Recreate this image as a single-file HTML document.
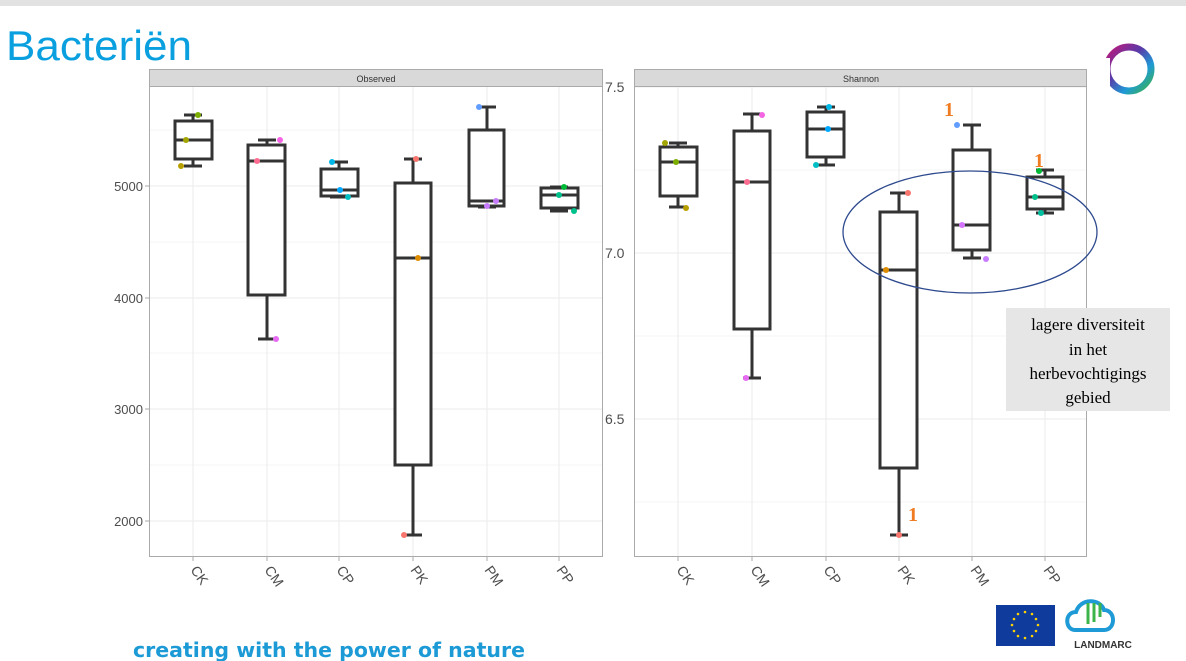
<!DOCTYPE html>
<html><head><meta charset="utf-8"><style>
html,body{margin:0;padding:0;background:#fff;}
body{width:1186px;height:661px;overflow:hidden;position:relative;font-family:"Liberation Sans",sans-serif;}
</style></head><body>
<svg width="1186" height="661" xmlns="http://www.w3.org/2000/svg" style="position:absolute;left:0;top:0">
<defs>
<linearGradient id="lg" x1="0" y1="0" x2="1" y2="1">
<stop offset="0" stop-color="#c2187a"/><stop offset="0.4" stop-color="#5a3aa8"/><stop offset="0.7" stop-color="#1e9ad6"/><stop offset="1" stop-color="#3cb44a"/></linearGradient>
</defs>
<rect x="0" y="0" width="1186" height="6" fill="#e2e2e2"/>
<text x="6" y="60" font-family="Liberation Sans" font-size="42" fill="#0aa0e0" textLength="186" lengthAdjust="spacingAndGlyphs">Bacteriën</text>
<!-- logo -->
<circle cx="1129" cy="69" r="22" fill="none" stroke="url(#lg)" stroke-width="7"/>
<rect x="1098" y="58" width="12" height="30" fill="#fff"/>

<!-- LEFT PANEL -->
<g stroke="#ebebeb" stroke-width="1">
<line x1="150" x2="603" y1="130" y2="130" stroke="#f4f4f4"/>
<line x1="150" x2="603" y1="242" y2="242" stroke="#f4f4f4"/>
<line x1="150" x2="603" y1="353" y2="353" stroke="#f4f4f4"/>
<line x1="150" x2="603" y1="465" y2="465" stroke="#f4f4f4"/>
<line x1="150" x2="603" y1="186" y2="186"/>
<line x1="150" x2="603" y1="298" y2="298"/>
<line x1="150" x2="603" y1="409" y2="409"/>
<line x1="150" x2="603" y1="521" y2="521"/>
<line x1="193" x2="193" y1="86" y2="556"/><line x1="267" x2="267" y1="86" y2="556"/>
<line x1="339" x2="339" y1="86" y2="556"/><line x1="413" x2="413" y1="86" y2="556"/>
<line x1="487" x2="487" y1="86" y2="556"/><line x1="559" x2="559" y1="86" y2="556"/>
</g>
<rect x="149.5" y="69.5" width="453" height="17" fill="#d9d9d9" stroke="#aaa"/>
<text x="376" y="82" font-size="9" text-anchor="middle" fill="#333">Observed</text>
<rect x="149.5" y="86.5" width="453" height="470" fill="none" stroke="#aaa"/>
<g font-size="13" fill="#4d4d4d" text-anchor="end">
<text x="143" y="191">5000</text><text x="143" y="303">4000</text><text x="143" y="414">3000</text><text x="143" y="526">2000</text>
</g>
<g stroke="#aaa"><line x1="145" x2="149" y1="186" y2="186"/><line x1="145" x2="149" y1="298" y2="298"/><line x1="145" x2="149" y1="409" y2="409"/><line x1="145" x2="149" y1="521" y2="521"/></g>
<g stroke="#aaa"><line x1="193" x2="193" y1="557" y2="561"/><line x1="267" x2="267" y1="557" y2="561"/><line x1="339" x2="339" y1="557" y2="561"/><line x1="413" x2="413" y1="557" y2="561"/><line x1="487" x2="487" y1="557" y2="561"/><line x1="559" x2="559" y1="557" y2="561"/>
<line x1="678" x2="678" y1="557" y2="561"/><line x1="752" x2="752" y1="557" y2="561"/><line x1="826" x2="826" y1="557" y2="561"/><line x1="899" x2="899" y1="557" y2="561"/><line x1="972" x2="972" y1="557" y2="561"/><line x1="1045" x2="1045" y1="557" y2="561"/></g>
<g font-size="14" fill="#4d4d4d">
<text transform="translate(190,570) rotate(55)">CK</text>
<text transform="translate(264,570) rotate(55)">CM</text>
<text transform="translate(336,570) rotate(55)">CP</text>
<text transform="translate(410,570) rotate(55)">PK</text>
<text transform="translate(484,570) rotate(55)">PM</text>
<text transform="translate(556,570) rotate(55)">PP</text>
<text transform="translate(676,570) rotate(55)">CK</text>
<text transform="translate(750,570) rotate(55)">CM</text>
<text transform="translate(823,570) rotate(55)">CP</text>
<text transform="translate(897,570) rotate(55)">PK</text>
<text transform="translate(970,570) rotate(55)">PM</text>
<text transform="translate(1043,570) rotate(55)">PP</text>
</g>
<g fill="none" stroke="#333" stroke-width="3">
<path d="M193 115V121M193 159V166M184 115H202M184 166H202"/><rect x="175" y="121" width="37" height="38" fill="#fff"/><path d="M175 140H212"/>
<path d="M267 140V145M267 295V339M258 140H276M258 339H276"/><rect x="248" y="145" width="37" height="150" fill="#fff"/><path d="M248 161H285"/>
<path d="M339 162V169M330 162H348M330 197H348"/><rect x="321" y="169" width="37" height="27" fill="#fff"/><path d="M321 190H358"/>
<path d="M413 159V183M413 465V535M404 159H422M404 535H422"/><rect x="395" y="183" width="36" height="282" fill="#fff"/><path d="M395 258H431"/>
<path d="M487 107V130M478 107H496M478 207H496"/><rect x="469" y="130" width="35" height="76" fill="#fff"/><path d="M469 201H504"/>
<path d="M559 208V211M550 187H568M550 211H568"/><rect x="541" y="188" width="37" height="20" fill="#fff"/><path d="M541 195H578"/>
</g>
<g>
<circle cx="198" cy="115" r="3" fill="#7cae00"/><circle cx="186" cy="140" r="3" fill="#a3a500"/><circle cx="181" cy="166" r="3" fill="#b79f00"/>
<circle cx="280" cy="140" r="3" fill="#f564e3"/><circle cx="257" cy="161" r="3" fill="#ff6c91"/><circle cx="276" cy="339" r="3" fill="#e76bf3"/>
<circle cx="332" cy="162" r="3" fill="#00b8e7"/><circle cx="340" cy="190" r="3" fill="#00a9ff"/><circle cx="348" cy="197" r="3" fill="#00bfc4"/>
<circle cx="416" cy="159" r="3" fill="#f8766d"/><circle cx="418" cy="258" r="3" fill="#de8c00"/><circle cx="404" cy="535" r="3" fill="#f8766d"/>
<circle cx="479" cy="107" r="3" fill="#619cff"/><circle cx="496" cy="201" r="3" fill="#c77cff"/><circle cx="487" cy="206" r="3" fill="#c77cff"/>
<circle cx="564" cy="187" r="3" fill="#00ba38"/><circle cx="559" cy="195" r="3" fill="#00c08b"/><circle cx="574" cy="211" r="3" fill="#00c08b"/>
</g>

<!-- RIGHT PANEL -->
<g stroke="#ebebeb" stroke-width="1">
<line x1="635" x2="1087" y1="170" y2="170" stroke="#f4f4f4"/>
<line x1="635" x2="1087" y1="336" y2="336" stroke="#f4f4f4"/>
<line x1="635" x2="1087" y1="502" y2="502" stroke="#f4f4f4"/>
<line x1="635" x2="1087" y1="87" y2="87"/><line x1="635" x2="1087" y1="253" y2="253"/><line x1="635" x2="1087" y1="419" y2="419"/>
<line x1="678" x2="678" y1="86" y2="556"/><line x1="752" x2="752" y1="86" y2="556"/>
<line x1="826" x2="826" y1="86" y2="556"/><line x1="899" x2="899" y1="86" y2="556"/>
<line x1="972" x2="972" y1="86" y2="556"/><line x1="1045" x2="1045" y1="86" y2="556"/>
</g>
<rect x="634.5" y="69.5" width="452" height="17" fill="#d9d9d9" stroke="#aaa"/>
<text x="861" y="82" font-size="9" text-anchor="middle" fill="#333">Shannon</text>
<rect x="634.5" y="86.5" width="452" height="470" fill="none" stroke="#aaa"/>
<g font-size="14" fill="#4d4d4d">
<text x="605" y="92">7.5</text><text x="605" y="258">7.0</text><text x="605" y="424">6.5</text>
</g>
<g fill="none" stroke="#333" stroke-width="3">
<path d="M678 143V147M678 196V207M669 143H687M669 207H687"/><rect x="660" y="147" width="37" height="49" fill="#fff"/><path d="M660 162H697"/>
<path d="M752 114V131M752 329V378M743 114H761M743 378H761"/><rect x="734" y="131" width="36" height="198" fill="#fff"/><path d="M734 182H770"/>
<path d="M826 107V112M826 157V165M817 107H835M817 165H835"/><rect x="807" y="112" width="37" height="45" fill="#fff"/><path d="M807 129H844"/>
<path d="M899 193V212M899 468V535M890 193H908M890 535H908"/><rect x="880" y="212" width="37" height="256" fill="#fff"/><path d="M880 270H917"/>
<path d="M972 125V150M972 250V258M963 125H981M963 258H981"/><rect x="953" y="150" width="37" height="100" fill="#fff"/><path d="M953 225H990"/>
<path d="M1045 170V177M1045 209V213M1036 170H1054M1036 213H1054"/><rect x="1027" y="177" width="36" height="32" fill="#fff"/><path d="M1027 197H1063"/>
</g>
<g>
<circle cx="665" cy="143" r="3" fill="#a3a500"/><circle cx="676" cy="162" r="3" fill="#7cae00"/><circle cx="686" cy="208" r="3" fill="#b79f00"/>
<circle cx="762" cy="115" r="3" fill="#f564e3"/><circle cx="747" cy="182" r="3" fill="#ff6c91"/><circle cx="746" cy="378" r="3" fill="#e76bf3"/>
<circle cx="829" cy="107" r="3" fill="#00b8e7"/><circle cx="828" cy="129" r="3" fill="#00a9ff"/><circle cx="816" cy="165" r="3" fill="#00bfc4"/>
<circle cx="908" cy="193" r="3" fill="#f8766d"/><circle cx="886" cy="270" r="3" fill="#de8c00"/><circle cx="899" cy="535" r="3" fill="#f8766d"/>
<circle cx="957" cy="125" r="3" fill="#619cff"/><circle cx="962" cy="225" r="3" fill="#d575fe"/><circle cx="986" cy="259" r="3" fill="#c77cff"/>
<circle cx="1039" cy="171" r="3" fill="#00ba38"/><circle cx="1035" cy="197" r="3" fill="#00c08b"/><circle cx="1041" cy="213" r="3" fill="#00bfa0"/>
</g>
<g font-family="Liberation Serif" font-weight="bold" font-size="20" fill="#f07c22">
<text x="944" y="116">1</text><text x="1034" y="167">1</text><text x="908" y="521">1</text>
</g>
<ellipse cx="970" cy="232" rx="127" ry="61" fill="none" stroke="#2e4a8e" stroke-width="1.3"/>
<rect x="1006" y="308" width="164" height="103" fill="#e6e6e6"/>
<g font-family="Liberation Serif" font-size="17" fill="#000" text-anchor="middle">
<text x="1088" y="330">lagere diversiteit</text><text x="1088" y="355">in het</text>
<text x="1088" y="379">herbevochtigings</text><text x="1088" y="403">gebied</text>
</g>

<!-- footer -->
<text x="133" y="657" font-family="DejaVu Sans" font-weight="bold" font-size="20" fill="#1b9ad6" textLength="392" lengthAdjust="spacingAndGlyphs">creating with the power of nature</text>
<rect x="996" y="605" width="59" height="41" fill="#0e3b9c"/>
<g fill="#ffd200">
<circle cx="1025" cy="612" r="1.3"/><circle cx="1032" cy="614" r="1.3"/><circle cx="1036" cy="619" r="1.3"/><circle cx="1038" cy="625" r="1.3"/><circle cx="1036" cy="631" r="1.3"/><circle cx="1032" cy="636" r="1.3"/><circle cx="1025" cy="638" r="1.3"/><circle cx="1018" cy="636" r="1.3"/><circle cx="1014" cy="631" r="1.3"/><circle cx="1012" cy="625" r="1.3"/><circle cx="1014" cy="619" r="1.3"/><circle cx="1018" cy="614" r="1.3"/>
</g>
<path d="M1075 630 C1065 630 1064 612 1076 612 C1080 598 1100 598 1104 610 C1116 610 1116 630 1104 630 Z" fill="none" stroke="#1e9ad6" stroke-width="4"/>
<g stroke="#3cb44a" stroke-width="3"><line x1="1088" y1="603" x2="1088" y2="624"/><line x1="1094" y1="603" x2="1094" y2="622"/><line x1="1100" y1="603" x2="1100" y2="617"/></g>
<text x="1103" y="648" font-family="Liberation Sans" font-weight="bold" font-size="10" fill="#333" text-anchor="middle">LANDMARC</text>
</svg>
</body></html>
